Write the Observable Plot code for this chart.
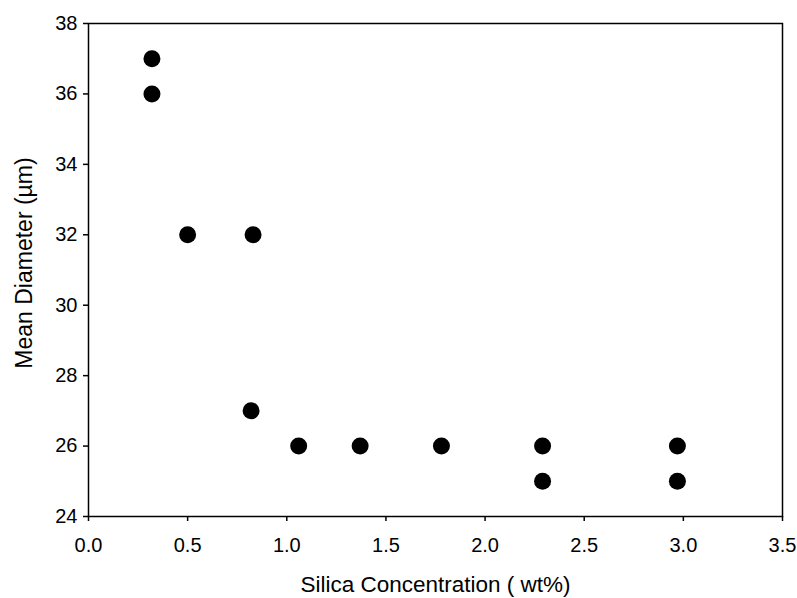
<!DOCTYPE html>
<html>
<head>
<meta charset="utf-8">
<script src="https://cdn.jsdelivr.net/npm/d3@7"></script>
<script src="https://cdn.jsdelivr.net/npm/@observablehq/plot@0.6"></script>
<style>
  html, body { margin: 0; padding: 0; background: #fff; }
  #chart { width: 797px; height: 598px; }
</style>
</head>
<body>
<div id="chart"></div>
<script>
const silica = [0.32, 0.32, 0.50, 0.83, 0.82, 1.06, 1.37, 1.78, 2.29, 2.29, 2.97, 2.97];
const diameter = [37, 36, 32, 32, 27, 26, 26, 26, 26, 25, 26, 25];
const xTicks = [0, 0.5, 1.0, 1.5, 2.0, 2.5, 3.0, 3.5];
const yTicks = [24, 26, 28, 30, 32, 34, 36, 38];
const xTitle = "Silica Concentration ( wt%)";
const yTitle = "Mean Diameter (µm)";

const data = silica.map((x, i) => ({x, y: diameter[i]}));

const chart = Plot.plot({
  width: 797,
  height: 598,
  marginLeft: 88,
  marginRight: 15,
  marginTop: 23,
  marginBottom: 82,
  style: {fontFamily: "'Liberation Sans', Arial, sans-serif", fontSize: "19px", color: "black", background: "white"},
  x: {domain: [0, 3.5]},
  y: {domain: [24, 38]},
  marks: [
    Plot.frame({stroke: "black", strokeWidth: 1.5}),
    Plot.axisX({ticks: xTicks, tickFormat: d3.format(".1f"), tickSize: 5, tickPadding: 16, label: null, fontSize: 20, strokeWidth: 1.5}),
    Plot.axisY({ticks: yTicks, tickSize: 5, tickPadding: 6, label: null, fontSize: 20, strokeWidth: 1.5}),
    Plot.text([xTitle], {text: d => d, frameAnchor: "bottom", textAnchor: "middle", dy: 75, fontSize: 22.5, fill: "black"}),
    Plot.text([yTitle], {text: d => d, frameAnchor: "left", textAnchor: "middle", dx: -64, dy: -7, rotate: -90, fontSize: 23, fill: "black"}),
    Plot.dot(data, {x: "x", y: "y", r: 8.5, fill: "black", stroke: "none"})
  ]
});
document.getElementById("chart").appendChild(chart);
</script>
</body>
</html>
